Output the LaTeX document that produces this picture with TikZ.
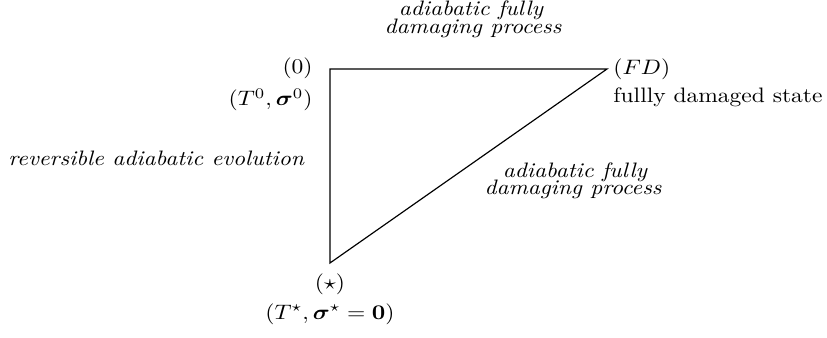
\documentclass[tikz,border=0pt]{standalone}
\usepackage{amsmath,amssymb,bm,graphicx}
\newcommand{\sqz}[1]{\scalebox{1}[0.89]{#1}}
\begin{document}
\begin{tikzpicture}[x=0.4255pt,y=-0.4255pt,
  edge/.style={draw=black,line width=0.5pt},
  lbl/.style={inner sep=0pt,align=center},
  ilbl/.style={inner sep=0pt,align=center,font=\itshape}]
\useasboundingbox (0,0) rectangle (827,338);
\coordinate (O) at (330,69);
\coordinate (FD) at (607,69);
\coordinate (S) at (330,263);
\draw[edge] (S) -- (O) -- (FD) -- cycle;
\node[lbl,anchor=east] (l0) at (313,68) {\sqz{$(0)$}};
\node[lbl,anchor=east] (lT0) at (313,100) {\sqz{$(T^0,\bm{\sigma}^0)$}};
\node[lbl,anchor=west] (lFD) at (613,69) {\sqz{$(FD)$}};
\node[lbl,anchor=west] (lfds) at (613,97) {\sqz{fullly damaged state}};
\node[ilbl,anchor=base] (topa) at (471,16) {\sqz{adiabatic fully}};
\node[ilbl,anchor=base] (topb) at (473,33.5) {\sqz{damaging process}};
\node[ilbl,anchor=west] (rev) at (8,158) {\sqz{reversible adiabatic evolution}};
\node[ilbl,anchor=base] (diaga) at (575,177.5) {\sqz{adiabatic fully}};
\node[ilbl,anchor=base] (diagb) at (573,195) {\sqz{damaging process}};
\node[lbl] (ls) at (330,284) {\sqz{$(\star)$}};
\node[lbl] (lTs) at (330,314) {\sqz{$(T^\star,\bm{\sigma}^\star=\mathbf{0})$}};
\end{tikzpicture}
\end{document}
